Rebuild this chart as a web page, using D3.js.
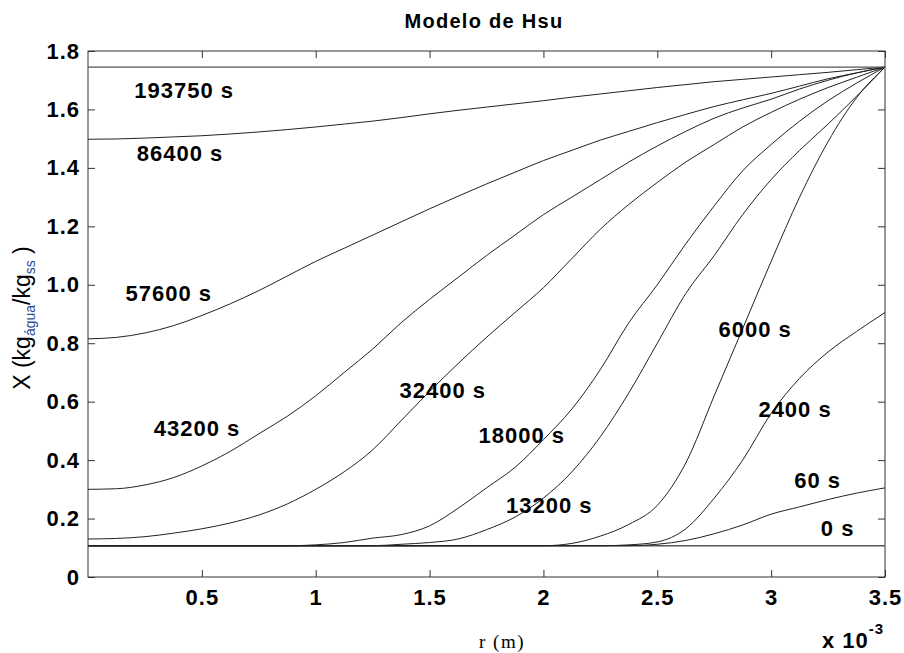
<!DOCTYPE html>
<html>
<head>
<meta charset="utf-8">
<script src="https://cdn.jsdelivr.net/npm/d3@7"></script>
<style>
  body { margin: 0; background: #fff; }
  svg { display: block; }
  .tick text { font-family: "Liberation Sans", Arial, sans-serif; font-weight: bold; font-size: 22px; letter-spacing: 1px; fill: #000; }
  .tick line { stroke: #333; }
</style>
</head>
<body>
<div id="chart"></div>
<script>
// radius (x 10^-3 m)
const rValues = [0, 0.125, 0.25, 0.375, 0.5, 0.625, 0.75, 0.875, 1, 1.125, 1.25, 1.375, 1.5, 1.625,
  1.75, 1.875, 2, 2.125, 2.25, 2.375, 2.5, 2.625, 2.75, 2.875, 3, 3.125, 3.25, 3.375, 3.5];

// moisture X (kg agua / kg ss) per time
const x0s = [0.107, 0.107, 0.107, 0.107, 0.107, 0.107, 0.107, 0.107, 0.107, 0.107, 0.107, 0.107, 0.107, 0.107,
  0.107, 0.107, 0.107, 0.107, 0.107, 0.107, 0.107, 0.107, 0.107, 0.107, 0.107, 0.107, 0.107, 0.107, 0.107];
const x60s = [0.107, 0.107, 0.107, 0.107, 0.107, 0.107, 0.107, 0.107, 0.107, 0.107, 0.107, 0.107, 0.107, 0.107,
  0.107, 0.107, 0.107, 0.107, 0.107, 0.107, 0.112, 0.125, 0.148, 0.178, 0.215, 0.24, 0.265, 0.287, 0.305];
const x2400s = [0.107, 0.107, 0.107, 0.107, 0.107, 0.107, 0.107, 0.107, 0.107, 0.107, 0.107, 0.107, 0.107, 0.107,
  0.107, 0.107, 0.107, 0.107, 0.107, 0.11, 0.12, 0.165, 0.27, 0.40, 0.56, 0.68, 0.77, 0.84, 0.905];
const x6000s = [0.107, 0.107, 0.107, 0.107, 0.107, 0.107, 0.107, 0.107, 0.107, 0.107, 0.107, 0.107, 0.107, 0.107,
  0.107, 0.107, 0.107, 0.115, 0.14, 0.18, 0.245, 0.39, 0.62, 0.85, 1.08, 1.30, 1.49, 1.64, 1.745];
const x13200s = [0.107, 0.107, 0.107, 0.107, 0.107, 0.107, 0.107, 0.107, 0.107, 0.107, 0.107, 0.112, 0.118, 0.13,
  0.162, 0.205, 0.27, 0.36, 0.48, 0.63, 0.80, 0.97, 1.10, 1.24, 1.36, 1.46, 1.55, 1.645, 1.745];
const x18000s = [0.107, 0.107, 0.107, 0.107, 0.107, 0.107, 0.107, 0.107, 0.11, 0.118, 0.133, 0.145, 0.175, 0.235,
  0.305, 0.375, 0.47, 0.575, 0.71, 0.87, 1.0, 1.14, 1.27, 1.39, 1.48, 1.56, 1.63, 1.69, 1.745];
const x32400s = [0.13, 0.132, 0.138, 0.15, 0.165, 0.185, 0.212, 0.25, 0.30, 0.36, 0.435, 0.535, 0.635, 0.73,
  0.82, 0.905, 0.99, 1.09, 1.19, 1.275, 1.35, 1.42, 1.48, 1.54, 1.59, 1.635, 1.675, 1.71, 1.745];
const x43200s = [0.30, 0.302, 0.315, 0.34, 0.38, 0.43, 0.49, 0.55, 0.62, 0.70, 0.78, 0.87, 0.95, 1.025,
  1.10, 1.17, 1.24, 1.30, 1.36, 1.42, 1.475, 1.525, 1.57, 1.605, 1.635, 1.67, 1.70, 1.725, 1.745];
const x57600s = [0.815, 0.82, 0.835, 0.86, 0.895, 0.935, 0.98, 1.03, 1.08, 1.125, 1.17, 1.215, 1.26, 1.303,
  1.345, 1.385, 1.425, 1.46, 1.495, 1.525, 1.555, 1.583, 1.61, 1.633, 1.655, 1.68, 1.705, 1.725, 1.745];
const x86400s = [1.498, 1.499, 1.502, 1.506, 1.51, 1.516, 1.523, 1.531, 1.54, 1.55, 1.56, 1.572, 1.585, 1.597,
  1.608, 1.619, 1.63, 1.642, 1.653, 1.664, 1.675, 1.685, 1.695, 1.703, 1.711, 1.719, 1.727, 1.736, 1.745];
const x193750s = [1.745, 1.745, 1.745, 1.745, 1.745, 1.745, 1.745, 1.745, 1.745, 1.745, 1.745, 1.745, 1.745, 1.745,
  1.745, 1.745, 1.745, 1.745, 1.745, 1.745, 1.745, 1.745, 1.745, 1.745, 1.745, 1.745, 1.745, 1.745, 1.745];

const seriesNames = ["0 s", "60 s", "2400 s", "6000 s", "13200 s", "18000 s", "32400 s", "43200 s", "57600 s", "86400 s", "193750 s"];
const seriesValues = [x0s, x60s, x2400s, x6000s, x13200s, x18000s, x32400s, x43200s, x57600s, x86400s, x193750s];

// label anchors in data units [r, X]
const labelAnchors = [[3.218, 0.139], [3.101, 0.305], [2.944, 0.549], [2.769, 0.823], [1.836, 0.219],
  [1.715, 0.459], [1.368, 0.613], [0.289, 0.481], [0.165, 0.943], [0.214, 1.424], [0.203, 1.638]];

const xTicks = [0.5, 1, 1.5, 2, 2.5, 3, 3.5];
const yTicks = [0, 0.2, 0.4, 0.6, 0.8, 1.0, 1.2, 1.4, 1.6, 1.8];

const width = 904, height = 653;
const margin = { top: 51, right: 19, bottom: 76, left: 88 };
const w = width - margin.left - margin.right;
const h = height - margin.top - margin.bottom;

const svg = d3.select("#chart").append("svg")
  .attr("width", width)
  .attr("height", height);

const g = svg.append("g").attr("transform", `translate(${margin.left},${margin.top})`);

const x = d3.scaleLinear().domain([0, 3.5]).range([0, w]);
const y = d3.scaleLinear().domain([0, 1.8]).range([h, 0]);

const fmtY = (d) => (d === 0 ? "0" : d.toFixed(1));

// axes, ticks pointing inwards
g.append("g")
  .attr("transform", `translate(0,${h})`)
  .call(d3.axisBottom(x).tickValues(xTicks).tickSizeInner(-7).tickSizeOuter(0).tickPadding(12).tickFormat(d3.format("")))
  .call((a) => a.select(".domain").remove());

g.append("g")
  .call(d3.axisTop(x).tickValues(xTicks).tickSizeInner(-7).tickSizeOuter(0).tickFormat(""))
  .call((a) => a.select(".domain").remove());

g.append("g")
  .call(d3.axisLeft(y).tickValues(yTicks).tickSizeInner(-7).tickSizeOuter(0).tickPadding(8).tickFormat(fmtY))
  .call((a) => a.select(".domain").remove());

g.append("g")
  .attr("transform", `translate(${w},0)`)
  .call(d3.axisRight(y).tickValues(yTicks).tickSizeInner(-7).tickSizeOuter(0).tickFormat(""))
  .call((a) => a.select(".domain").remove());

g.selectAll(".tick text").attr("fill", "#000");

// frame
g.append("rect")
  .attr("width", w)
  .attr("height", h)
  .attr("fill", "none")
  .attr("stroke", "#333")
  .attr("stroke-width", 1);

//curves
const line = d3.line()
  .curve(d3.curveMonotoneX)
  .x((d) => x(d[0]))
  .y((d) => y(d[1]));

seriesValues.forEach((vals, i) => {
  const flat = i === 0 || i === seriesValues.length - 1;
  g.append("path")
    .datum(rValues.map((r, j) => [r, vals[j]]))
    .attr("fill", "none")
    .attr("stroke", flat ? "#555" : "#222")
    .attr("stroke-width", flat ? 1.3 : 1)
    .attr("d", line);
});

// curve labels
g.selectAll(".curve-label")
  .data(seriesNames)
  .join("text")
  .attr("class", "curve-label")
  .attr("x", (d, i) => x(labelAnchors[i][0]))
  .attr("y", (d, i) => y(labelAnchors[i][1]))
  .attr("font-family", '"Liberation Sans", Arial, sans-serif')
  .attr("font-weight", "bold")
  .attr("font-size", 22)
  .attr("letter-spacing", 1)
  .attr("fill", "#000")
  .text((d) => d);

// title
svg.append("text")
  .attr("x", 484)
  .attr("y", 28)
  .attr("text-anchor", "middle")
  .attr("font-family", '"Liberation Sans", Arial, sans-serif')
  .attr("font-weight", "bold")
  .attr("font-size", 20)
  .attr("letter-spacing", 1.3)
  .text("Modelo de Hsu");

// y label
const yl = svg.append("text")
  .attr("transform", "translate(30,318) rotate(-90)")
  .attr("text-anchor", "middle")
  .attr("font-family", '"Liberation Sans", Arial, sans-serif')
  .attr("font-size", 23)
  .attr("fill", "#000");
yl.append("tspan").text("X (kg");
yl.append("tspan").attr("dy", 5).attr("font-size", 14).attr("fill", "#2b4a9a").text("água");
yl.append("tspan").attr("dy", -5).text("/kg");
yl.append("tspan").attr("dy", 5).attr("font-size", 14).attr("fill", "#2b4a9a").text("ss");
yl.append("tspan").attr("dy", -5).text(" )");

// x label
svg.append("text")
  .attr("x", 502)
  .attr("y", 648)
  .attr("text-anchor", "middle")
  .attr("font-family", '"Liberation Serif", "Times New Roman", serif')
  .attr("font-size", 19)
  .attr("letter-spacing", 1.5)
  .text("r (m)");

// exponent
const ex = svg.append("text")
  .attr("x", 822)
  .attr("y", 648)
  .attr("font-family", '"Liberation Sans", Arial, sans-serif')
  .attr("font-weight", "bold")
  .attr("font-size", 22)
  .attr("letter-spacing", 1);
ex.append("tspan").text("x 10");
ex.append("tspan").attr("dy", -14).attr("font-size", 15).text("-3");
</script>
</body>
</html>
